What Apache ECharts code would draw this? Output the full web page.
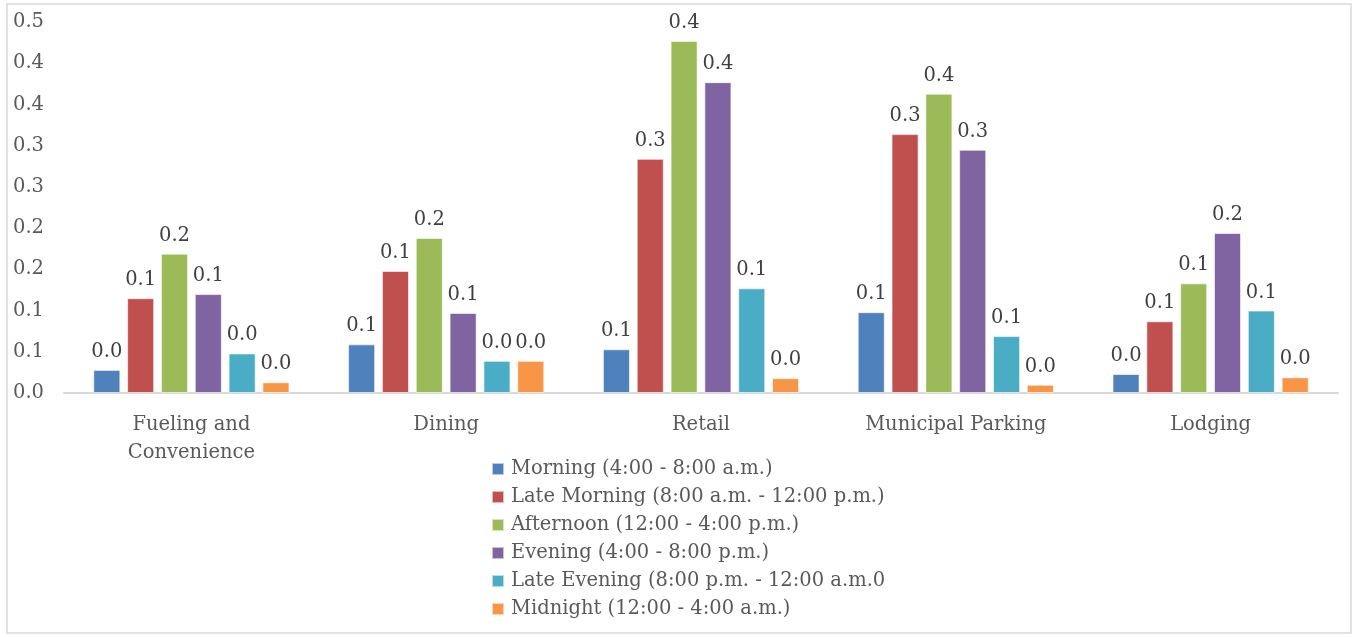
<!DOCTYPE html>
<html>
<head>
<meta charset="utf-8">
<script src="https://cdn.jsdelivr.net/npm/echarts@6/dist/echarts.min.js"></script>
<style>
  html, body { margin: 0; padding: 0; background: #fff; }
  #chart { width: 1357px; height: 637px; }
</style>
</head>
<body>
<div id="chart"></div>
<script>
// Share of charging sessions by site type and time of day
const categories = ['Fueling and\nConvenience', 'Dining', 'Retail', 'Municipal Parking', 'Lodging'];
const seriesNames = [
  'Morning (4:00 - 8:00 a.m.)',
  'Late Morning (8:00 a.m. - 12:00 p.m.)',
  'Afternoon (12:00 - 4:00 p.m.)',
  'Evening (4:00 - 8:00 p.m.)',
  'Late Evening (8:00 p.m. - 12:00 a.m.0',
  'Midnight (12:00 - 4:00 a.m.)'
];
const morning     = [0.028, 0.059, 0.053, 0.098, 0.023];
const lateMorning = [0.115, 0.148, 0.284, 0.314, 0.087];
const afternoon   = [0.169, 0.188, 0.427, 0.363, 0.133];
const evening     = [0.120, 0.097, 0.377, 0.295, 0.194];
const lateEvening = [0.048, 0.039, 0.127, 0.069, 0.100];
const midnight    = [0.013, 0.039, 0.018, 0.010, 0.019];
const yTickLabels = ['0.0', '0.1', '0.1', '0.2', '0.2', '0.3', '0.3', '0.4', '0.4', '0.5'];

const colors = ['#4F81BD', '#C0504D', '#9BBB59', '#8064A2', '#4BACC6', '#F79646'];
const values = [morning, lateMorning, afternoon, evening, lateEvening, midnight];
const FONT = 'DejaVu Serif';
const LABEL = '#404040';
const AXIS = '#595959';
const SIZE = 19.5;

const chart = echarts.init(document.getElementById('chart'));
chart.setOption({
  animation: false,
  textStyle: { fontFamily: FONT },
  graphic: [{
    type: 'rect',
    shape: { x: 7, y: 4, width: 1344, height: 629 },
    style: { fill: 'none', stroke: '#d9d9d9', lineWidth: 1.5 },
    silent: true
  }],
  grid: { left: 64, right: 19, top: 22, bottom: 244 },
  legend: {
    orient: 'vertical',
    left: 486,
    top: 453,
    itemWidth: 12,
    itemHeight: 12,
    itemGap: 6,
    icon: 'rect',
    textStyle: { fontFamily: FONT, fontSize: SIZE, color: AXIS, padding: [0, 0, 0, 2], lineHeight: 22 }
  },
  xAxis: {
    type: 'category',
    data: categories,
    axisLine: { lineStyle: { color: '#d9d9d9', width: 2 } },
    axisTick: { show: false },
    axisLabel: { fontFamily: FONT, fontSize: SIZE, color: AXIS, margin: 18, lineHeight: 28, interval: 0 }
  },
  yAxis: {
    type: 'value',
    min: 0,
    max: 0.45,
    interval: 0.05,
    splitLine: { show: false },
    axisLine: { show: false },
    axisTick: { show: false },
    axisLabel: {
      fontFamily: FONT, fontSize: SIZE, color: AXIS, margin: 20,
      formatter: v => yTickLabels[Math.round(v / 0.05)]
    }
  },
  series: values.map((d, i) => ({
    name: seriesNames[i],
    type: 'bar',
    data: d,
    barGap: '25%',
    barCategoryGap: '23%',
    itemStyle: { color: colors[i], borderColor: 'rgba(255,255,255,0.6)', borderWidth: 1 },
    label: {
      show: true,
      position: 'top',
      distance: 8,
      fontFamily: FONT,
      fontSize: SIZE,
      color: LABEL,
      formatter: p => p.value.toFixed(1)
    }
  }))
});
</script>
</body>
</html>
